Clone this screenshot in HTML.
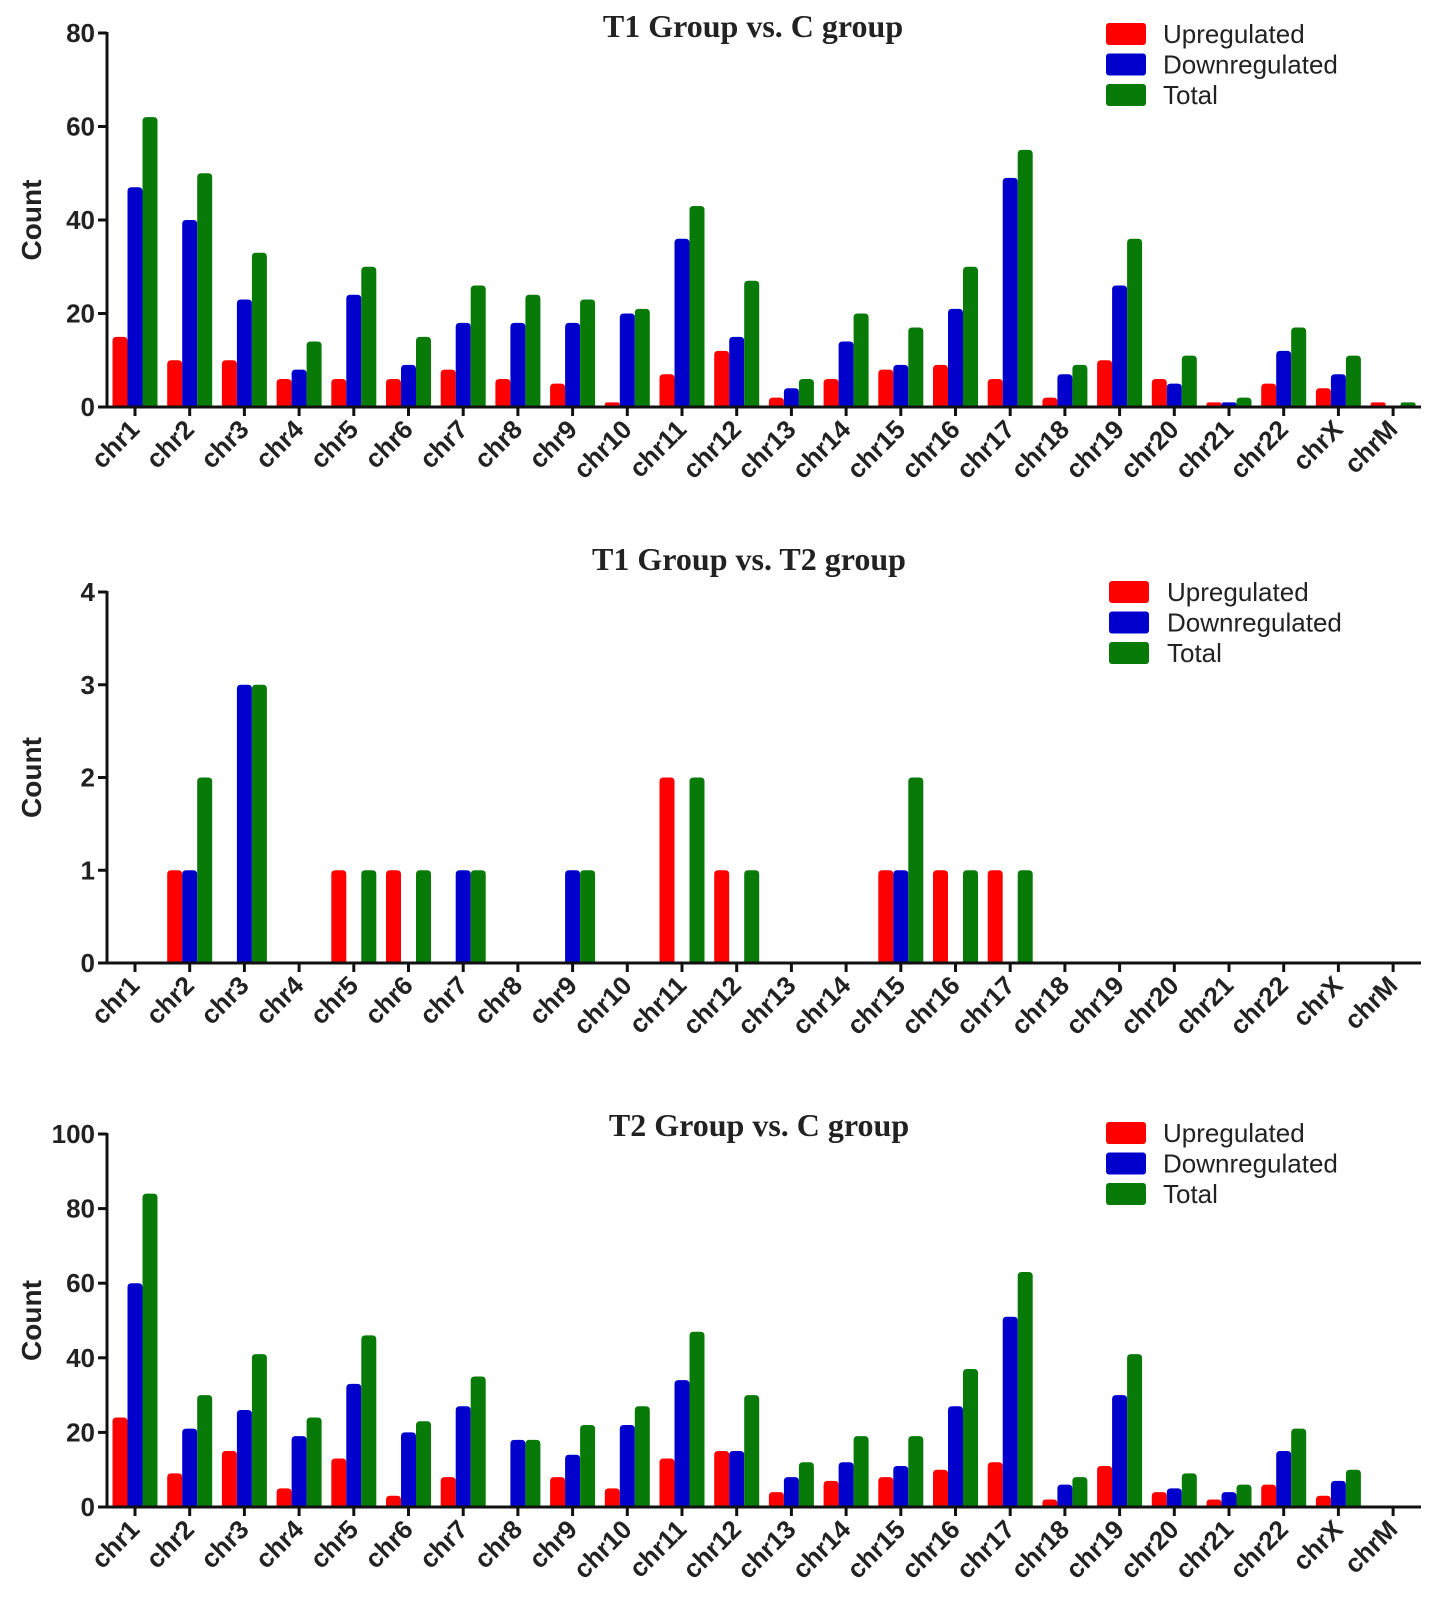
<!DOCTYPE html>
<html><head><meta charset="utf-8">
<style>
html,body{margin:0;padding:0;background:#fff;}
svg{display:block;}
text{font-family:"Liberation Sans",Arial,sans-serif;}
text.serif{font-family:"Liberation Serif","Times New Roman",serif;}
</style></head>
<body>
<svg id="fig" width="1441" height="1612" viewBox="0 0 1441 1612" xmlns="http://www.w3.org/2000/svg"></svg>
<script>
const categories=["chr1","chr2","chr3","chr4","chr5","chr6","chr7","chr8","chr9","chr10","chr11","chr12","chr13","chr14","chr15","chr16","chr17","chr18","chr19","chr20","chr21","chr22","chrX","chrM"];
const seriesNames=["Upregulated","Downregulated","Total"];
const seriesColors=["#ff0000","#0000cc","#087a08"];
// Panel 1: T1 vs C
const p1Up=[15,10,10,6,6,6,8,6,5,1,7,12,2,6,8,9,6,2,10,6,1,5,4,1];
const p1Down=[47,40,23,8,24,9,18,18,18,20,36,15,4,14,9,21,49,7,26,5,1,12,7,0];
const p1Total=[62,50,33,14,30,15,26,24,23,21,43,27,6,20,17,30,55,9,36,11,2,17,11,1];
const p1Ticks=[0,20,40,60,80];
// Panel 2: T1 vs T2
const p2Up=[0,1,0,0,1,1,0,0,0,0,2,1,0,0,1,1,1,0,0,0,0,0,0,0];
const p2Down=[0,1,3,0,0,0,1,0,1,0,0,0,0,0,1,0,0,0,0,0,0,0,0,0];
const p2Total=[0,2,3,0,1,1,1,0,1,0,2,1,0,0,2,1,1,0,0,0,0,0,0,0];
const p2Ticks=[0,1,2,3,4];
// Panel 3: T2 vs C
const p3Up=[24,9,15,5,13,3,8,0,8,5,13,15,4,7,8,10,12,2,11,4,2,6,3,0];
const p3Down=[60,21,26,19,33,20,27,18,14,22,34,15,8,12,11,27,51,6,30,5,4,15,7,0];
const p3Total=[84,30,41,24,46,23,35,18,22,27,47,30,12,19,19,37,63,8,41,9,6,21,10,0];
const p3Ticks=[0,20,40,60,80,100];

const NS="http://www.w3.org/2000/svg";
const svg=document.getElementById('fig');
function mk(tag,attrs,parent){const e=document.createElementNS(NS,tag);for(const k in attrs)e.setAttribute(k,attrs[k]);(parent||svg).appendChild(e);return e;}

const panels=[
 {key:'t1-vs-c',title:"T1 Group vs. C group",data:[p1Up,p1Down,p1Total],ticks:p1Ticks,y0:407,yTop:33,titleX:753,titleY:37,legX:1106,legY:34,legTX:1163},
 {key:'t1-vs-t2',title:"T1 Group vs. T2 group",data:[p2Up,p2Down,p2Total],ticks:p2Ticks,y0:963,yTop:592,titleX:749,titleY:570,legX:1109,legY:592,legTX:1167},
 {key:'t2-vs-c',title:"T2 Group vs. C group",data:[p3Up,p3Down,p3Total],ticks:p3Ticks,y0:1507,yTop:1134,titleX:759,titleY:1136,legX:1106,legY:1133,legTX:1163}
];
const axisX=107, axisEnd=1421, firstC=135, step=54.7, bw=15;

panels.forEach(p=>{
  const g=mk('g',{});
  
  
  const maxV=p.ticks[p.ticks.length-1];
  const y=v=>p.y0-(v/maxV)*(p.y0-p.yTop);
  const x=i=>firstC+i*step;
  p.data.forEach((arr,s)=>{
    arr.forEach((v,i)=>{
      if(v<=0)return;
      const left=x(i)-bw*1.5+s*bw, top=y(v), h=p.y0-top, r=Math.min(4,h/2);
      const d=`M${left},${p.y0} L${left},${top+r} Q${left},${top} ${left+r},${top} L${left+bw-r},${top} Q${left+bw},${top} ${left+bw},${top+r} L${left+bw},${p.y0} Z`;
      const b=mk('path',{d:d,fill:seriesColors[s]},g);
      
      
    });
  });
  const ya=mk('line',{x1:axisX,y1:p.yTop-1,x2:axisX,y2:p.y0+1.5,stroke:'#111','stroke-width':3},g);
  
  
  const xa=mk('line',{x1:axisX-1.5,y1:p.y0,x2:axisEnd,y2:p.y0,stroke:'#111','stroke-width':3},g);
  
  
  p.ticks.forEach(t=>{
    mk('line',{x1:axisX-9,y1:y(t),x2:axisX,y2:y(t),stroke:'#111','stroke-width':3},g);
    const tl=mk('text',{x:axisX-12,y:y(t)+9,'text-anchor':'end','font-size':26,'font-weight':'bold',fill:'#222'},g);
    tl.textContent=t;
    
    
  });
  categories.forEach((c,i)=>{
    mk('line',{x1:x(i),y1:p.y0,x2:x(i),y2:p.y0+9,stroke:'#111','stroke-width':3},g);
    const tx=x(i)+6, ty=p.y0+24;
    const cl=mk('text',{x:tx,y:ty,'text-anchor':'end','font-size':26,'font-weight':'bold',fill:'#222',transform:`rotate(-45 ${tx} ${ty})`},g);
    cl.textContent=c;
    
    
  });
  const ym=(p.y0+p.yTop)/2;
  const yl=mk('text',{x:41,y:ym,'text-anchor':'middle','font-size':28,'font-weight':'bold',fill:'#222',transform:`rotate(-90 41 ${ym})`},g);
  yl.textContent='Count';
  
  
  const tt=mk('text',{x:p.titleX,y:p.titleY,'text-anchor':'middle','font-size':32,'font-weight':'bold',fill:'#222',class:'serif',style:'font-family:"Liberation Serif",serif'},g);
  tt.textContent=p.title;
  
  
  seriesNames.forEach((n,s)=>{
    const cy=p.legY+s*30.5;
    const sw=mk('rect',{x:p.legX,y:cy-11,width:40,height:22,rx:3,fill:seriesColors[s]},g);
    
    
    const lt=mk('text',{x:p.legTX,y:cy+9,'font-size':26,fill:'#222'},g);
    lt.textContent=n;
    
    
  });
});
</script>
</body></html>
